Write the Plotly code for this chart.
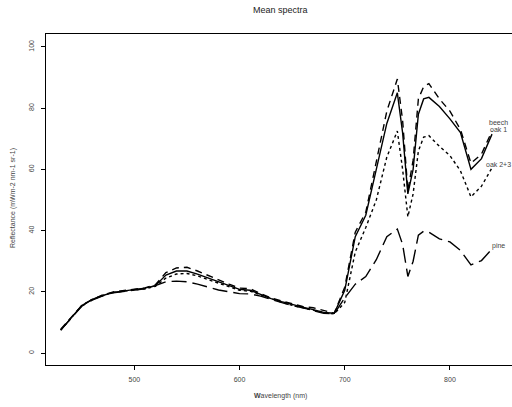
import plotly.graph_objects as go

wavelength = [430, 440, 450, 460, 470, 480, 490, 500, 510, 520, 530, 540, 550, 560,
              570, 580, 590, 600, 610, 620, 630, 640, 650, 660, 670, 680, 690, 700,
              710, 720, 730, 740, 750, 755, 760, 765, 770, 775, 780, 790, 800, 810,
              820, 830, 840]

beech = [7.5, 11.5, 15.5, 17.5, 18.8, 19.8, 20.3, 20.6, 21.2, 22.0, 25.5, 26.8, 26.8, 25.8,
         24.5, 23.3, 22.0, 20.8, 20.5, 19.2, 17.8, 16.8, 15.8, 15.0, 14.2, 13.3, 13.0, 20.5,
         38.0, 45.0, 60.0, 75.0, 85.0, 72.0, 52.0, 60.0, 78.0, 83.0, 83.5, 80.5, 76.5, 72.0,
         60.0, 63.5, 71.5]

oak1 = [7.8, 11.8, 15.5, 17.5, 19.0, 20.0, 20.4, 20.8, 21.3, 22.3, 26.3, 27.8, 28.0, 26.8,
        25.3, 23.8, 22.5, 21.2, 21.0, 19.4, 18.0, 17.0, 16.0, 15.2, 14.8, 14.0, 13.0, 21.5,
        39.5, 46.0, 62.0, 79.0, 89.5, 76.0, 53.0, 63.0, 83.0, 87.0, 88.0, 83.0, 79.0, 73.0,
        62.0, 65.0, 72.5]

oak23 = [7.5, 11.5, 15.5, 17.5, 18.8, 19.8, 20.3, 20.6, 21.0, 21.8, 24.5, 25.8, 26.0, 25.2,
         24.0, 22.8, 21.6, 20.5, 20.2, 19.0, 17.6, 16.6, 15.6, 14.9, 14.0, 13.2, 12.8, 16.5,
         33.0, 41.0, 50.0, 64.0, 72.5, 60.0, 44.5, 52.0, 66.0, 70.5, 71.0, 67.5, 64.5, 59.5,
         51.0, 54.5, 60.5]

pine = [7.5, 11.5, 15.3, 17.3, 18.7, 19.7, 20.2, 20.5, 21.0, 22.0, 23.3, 23.5, 23.3, 22.5,
        21.5, 20.6, 20.0, 19.4, 19.3, 18.6, 17.5, 16.5, 15.5, 14.8, 14.0, 13.0, 12.8, 18.0,
        22.5, 25.0, 30.5, 38.0, 40.5, 35.5, 25.0, 30.0, 38.5, 39.8, 39.5, 37.3, 36.3, 33.5,
        28.8, 30.2, 34.0]

series_names = ["beech", "oak 1", "oak 2+3", "pine"]
series_values = [beech, oak1, oak23, pine]
series_dash = ["solid", "7px,5px", "3px,3px", "15px,6px"]
label_y = [75.2, 73.0, 61.6, 34.9]
label_x = 846

x_ticks = [500, 600, 700, 800]
y_ticks = [0, 20, 40, 60, 80, 100]

W, H = 512, 407
L, R, T, B = 46, 0, 34, 42

fig = go.Figure()
for name, vals, dash in zip(series_names, series_values, series_dash):
    fig.add_trace(go.Scatter(x=wavelength, y=vals, mode="lines", name=name,
                             line=dict(color="black", width=1.4, dash=dash),
                             showlegend=False, hoverinfo="skip"))

txt = "#444444"
font_fam = "Liberation Sans, Arial, sans-serif"

annotations = []
for name, ly in zip(series_names, label_y):
    annotations.append(dict(x=label_x, y=ly, xref="x", yref="y", text=name,
                            showarrow=False, xanchor="center", yanchor="middle",
                            font=dict(size=7, color=txt, family=font_fam)))

pw = W - L - R
ph = H - T - B
def px(xp):
    return (xp - L) / pw
def py(yp):
    return (H - B - yp) / ph

annotations.append(dict(x=px(280), y=py(10), xref="paper", yref="paper",
                        text="Mean spectra", showarrow=False,
                        xanchor="center", yanchor="middle",
                        font=dict(size=9, color="#222222", family=font_fam)))
annotations.append(dict(x=px(280), y=py(396), xref="paper", yref="paper",
                        text="<b>W</b>avelength (nm)", showarrow=False,
                        xanchor="center", yanchor="middle",
                        font=dict(size=7, color=txt, family=font_fam)))
annotations.append(dict(x=px(13), y=py(198), xref="paper", yref="paper",
                        text="Reflectance (mWm-2 nm-1 sr-1)", showarrow=False,
                        textangle=-90, xanchor="center", yanchor="middle",
                        font=dict(size=7, color=txt, family=font_fam)))

fig.update_layout(
    width=W, height=H,
    margin=dict(l=L, r=R, t=T, b=B, pad=0),
    paper_bgcolor="white", plot_bgcolor="white",
    annotations=annotations,
    hovermode=False,
    xaxis=dict(range=[416, 859], tickvals=x_ticks, ticktext=[str(v) for v in x_ticks],
               showgrid=False, zeroline=False, showline=True, linecolor="black",
               linewidth=1, mirror=True, ticks="outside", ticklen=4, tickcolor="black",
               tickwidth=1, tickfont=dict(size=7, color=txt, family=font_fam),
               ticklabelstandoff=4),
    yaxis=dict(range=[-3.9, 104.2], tickvals=y_ticks, ticktext=[str(v) for v in y_ticks],
               showgrid=False, zeroline=False, showline=True, linecolor="black",
               linewidth=1, ticks="outside", ticklen=4, tickcolor="black", tickwidth=1,
               tickangle=-90, tickfont=dict(size=7, color=txt, family=font_fam),
               ticklabelstandoff=4),
)

fig.write_html("out.html",
               config={"displayModeBar": False, "staticPlot": True},
               post_script="document.body.style.margin='0px';"
                           "document.body.style.overflow='hidden';")
